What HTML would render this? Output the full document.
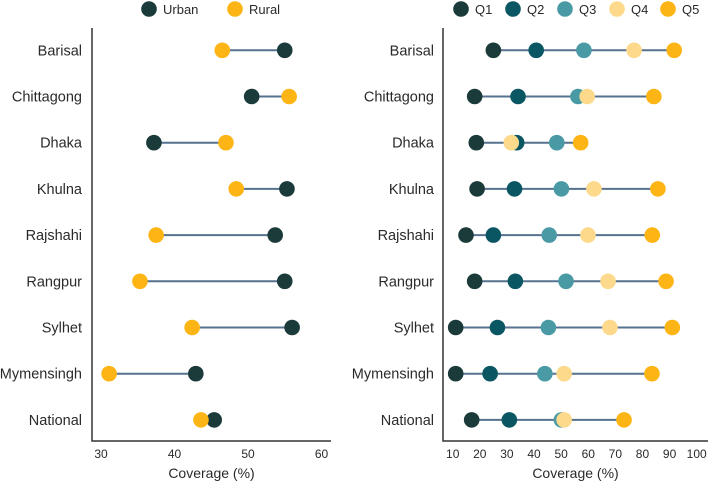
<!DOCTYPE html>
<html><head><meta charset="utf-8"><style>
html,body{margin:0;padding:0;background:#fff;}
svg text{font-family:"Liberation Sans",sans-serif;fill:#2a2a2a;}
</style></head><body>
<svg id="chart" width="708" height="483" xmlns="http://www.w3.org/2000/svg"></svg>
<script>
const regions = ["Barisal","Chittagong","Dhaka","Khulna","Rajshahi","Rangpur","Sylhet","Mymensingh","National"];
const urban = [55.0,50.5,37.2,55.3,53.7,55.0,56.0,42.9,45.4];
const rural = [46.5,55.6,47.0,48.4,37.5,35.3,42.4,31.1,43.6];
const q1 = [25.0,18.1,18.7,19.0,14.9,18.1,11.1,11.1,17.0];
const q2 = [40.8,34.1,33.6,32.8,25.0,33.1,26.5,23.8,30.9];
const q3 = [58.4,56.2,48.4,50.1,45.6,51.8,45.3,44.0,50.1];
const q4 = [76.9,59.6,31.6,62.1,59.9,67.3,68.0,51.1,51.1];
const q5 = [91.7,84.2,57.2,85.7,83.6,88.7,91.0,83.5,73.2];
const leftTicks = [30,40,50,60];
const rightTicks = [10,20,30,40,50,60,70,80,90,100];

const NS="http://www.w3.org/2000/svg";
const svg=document.getElementById('chart');
function mk(tag,attrs,parent){const e=document.createElementNS(NS,tag);for(const k in attrs)e.setAttribute(k,attrs[k]);(parent||svg).appendChild(e);return e;}
const yRow=i=>50.3+i*46.2;
const xL=v=>101+(v-30)*7.35;
const xR=v=>452.7+(v-10)*2.711;

function panel(name,axX,axRight,xf,ticks,series,colors,labelRight){
  const g=mk('g',{});
  
  
  const ax=mk('path',{d:`M${axX},28 V441 H${axRight}`,stroke:'#333','stroke-width':1.5,fill:'none'},g);
  
  
  ticks.forEach(t=>{
    const tx=mk('text',{x:xf(t),y:458,'font-size':12,'text-anchor':'middle'},g);
    tx.textContent=t;
    
    
  });
  const tt=mk('text',{x:(axX+axRight)/2,y:478,'font-size':14,'text-anchor':'middle'},g);
  tt.textContent='Coverage (%)';
  
  
  regions.forEach((r,i)=>{
    const y=yRow(i);
    const lb=mk('text',{x:labelRight,y:y+5,'font-size':14.5,'text-anchor':'end'},g);
    lb.textContent=r;
    
    
    const vals=series.map(s=>s[i]);
    const ln=mk('line',{x1:xf(Math.min(...vals)),x2:xf(Math.max(...vals)),y1:y,y2:y,stroke:'#56728f','stroke-width':2},g);
    
    
    series.forEach((s,k)=>{
      const c=mk('circle',{cx:xf(s[i]),cy:y,r:7.8,fill:colors[k]},g);
      
      
    });
  });
}
panel('left',92,331,xL,leftTicks,[urban,rural],['#1b3a3a','#fdb515'],82);
panel('right',443,708,xR,rightTicks,[q1,q2,q3,q4,q5],['#1b3a3a','#0b5663','#4a9aa5','#fdd98b','#fdb515'],434);

function legend(items,y){
  items.forEach(([lab,col,x])=>{
    const c=mk('circle',{cx:x,cy:y,r:7.8,fill:col});
    
    
    const t=mk('text',{x:x+14,y:y+5,'font-size':13});
    t.textContent=lab;
    
    
  });
}
legend([['Urban','#1b3a3a',149],['Rural','#fdb515',235]],9);
legend([['Q1','#1b3a3a',461],['Q2','#0b5663',513],['Q3','#4a9aa5',565],['Q4','#fdd98b',617],['Q5','#fdb515',668]],9);
</script>
</body></html>
